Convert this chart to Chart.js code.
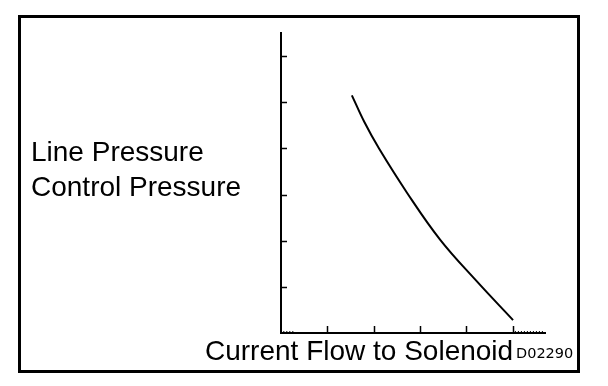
<!DOCTYPE html>
<html>
<head>
<meta charset="utf-8">
<script src="https://cdn.jsdelivr.net/npm/chart.js@4.4.1/dist/chart.umd.min.js"></script>
<style>
  html, body { margin: 0; padding: 0; background: #fff; }
  #wrap { position: relative; width: 608px; height: 386px; overflow: hidden; }
  #frame {
    position: absolute; left: 18px; top: 15px; width: 562px; height: 358px;
    box-sizing: border-box; border: 3px solid #000;
  }
  canvas { position: absolute; left: 0; top: 0; }
  .lbl {
    position: absolute; font-family: "Liberation Sans", Arial, sans-serif;
    font-size: 28px; line-height: 35px; color: #000; white-space: nowrap;
  }
  #code {
    position: absolute; left: 516px; top: 346px; font-family: "DejaVu Sans", sans-serif;
    font-size: 14.5px; line-height: 15px; color: #000;
  }
</style>
</head>
<body>
<div id="wrap">
  <div id="frame"></div>
  <canvas id="chart" width="608" height="386"></canvas>
  <div class="lbl" style="left:31px; top:134px;">Line Pressure<br>Control Pressure</div>
  <div class="lbl" style="left:205px; top:333px;">Current Flow to Solenoid</div>
  <div id="code">D02290</div>
</div>
<script>
// Solenoid current vs. pressure (no units on the original drawing)
const current  = [1.53, 1.80, 2.12, 2.72, 3.43, 4.20, 5.01];
const pressure = [5.15, 4.57, 3.99, 3.04, 2.03, 1.15, 0.28];

const xTicks = [1, 2, 3, 4, 5];
const yTicks = [1, 2, 3, 4, 5, 6];

// inward tick marks plus the little dotted bits along the x axis
const axisMarks = {
    id: 'axisMarks',
    afterDraw(chart) {
        const ctx = chart.ctx;
        const xs = chart.scales.x;
        const ys = chart.scales.y;
        const x0 = xs.getPixelForValue(0);
        const y0 = ys.getPixelForValue(0);
        ctx.save();
        ctx.strokeStyle = '#000';
        ctx.lineWidth = 1.5;
        ctx.beginPath();
        yTicks.forEach(function(v) {
            const py = Math.round(ys.getPixelForValue(v)) + 0.5;
            ctx.moveTo(x0, py);
            ctx.lineTo(x0 + 6, py);
        });
        xTicks.forEach(function(v) {
            const px = Math.round(xs.getPixelForValue(v)) + 0.5;
            ctx.moveTo(px, y0);
            ctx.lineTo(px, y0 - 7);
        });
        ctx.stroke();

        ctx.lineWidth = 1;
        ctx.setLineDash([1, 2]);
        ctx.beginPath();
        [[0.05, 0.28], [5.05, 5.68]].forEach(function(r) {
            ctx.moveTo(xs.getPixelForValue(r[0]), y0 - 1.5);
            ctx.lineTo(xs.getPixelForValue(r[1]), y0 - 1.5);
        });
        ctx.stroke();
        ctx.restore();
    }
};

new Chart(document.getElementById('chart'), {
    type: 'line',
    data: {
        datasets: [{
            data: current.map(function(x, i) { return { x: x, y: pressure[i] }; }),
            borderColor: '#000',
            borderWidth: 2,
            pointRadius: 0,
            fill: false,
            tension: 0.4
        }]
    },
    options: {
        responsive: false,
        animation: false,
        devicePixelRatio: 1,
        layout: { padding: { left: 281, top: 33, right: 63, bottom: 53 } },
        plugins: { legend: { display: false }, tooltip: { enabled: false } },
        scales: {
            x: {
                type: 'linear', min: 0, max: 5.7,
                ticks: { display: false, stepSize: 1 },
                grid: { display: false, drawTicks: false },
                border: { display: true, color: '#000', width: 2 }
            },
            y: {
                type: 'linear', min: 0, max: 6.5,
                ticks: { display: false, stepSize: 1 },
                grid: { display: false, drawTicks: false },
                border: { display: true, color: '#000', width: 2 }
            }
        }
    },
    plugins: [axisMarks]
});
</script>
</body>
</html>
